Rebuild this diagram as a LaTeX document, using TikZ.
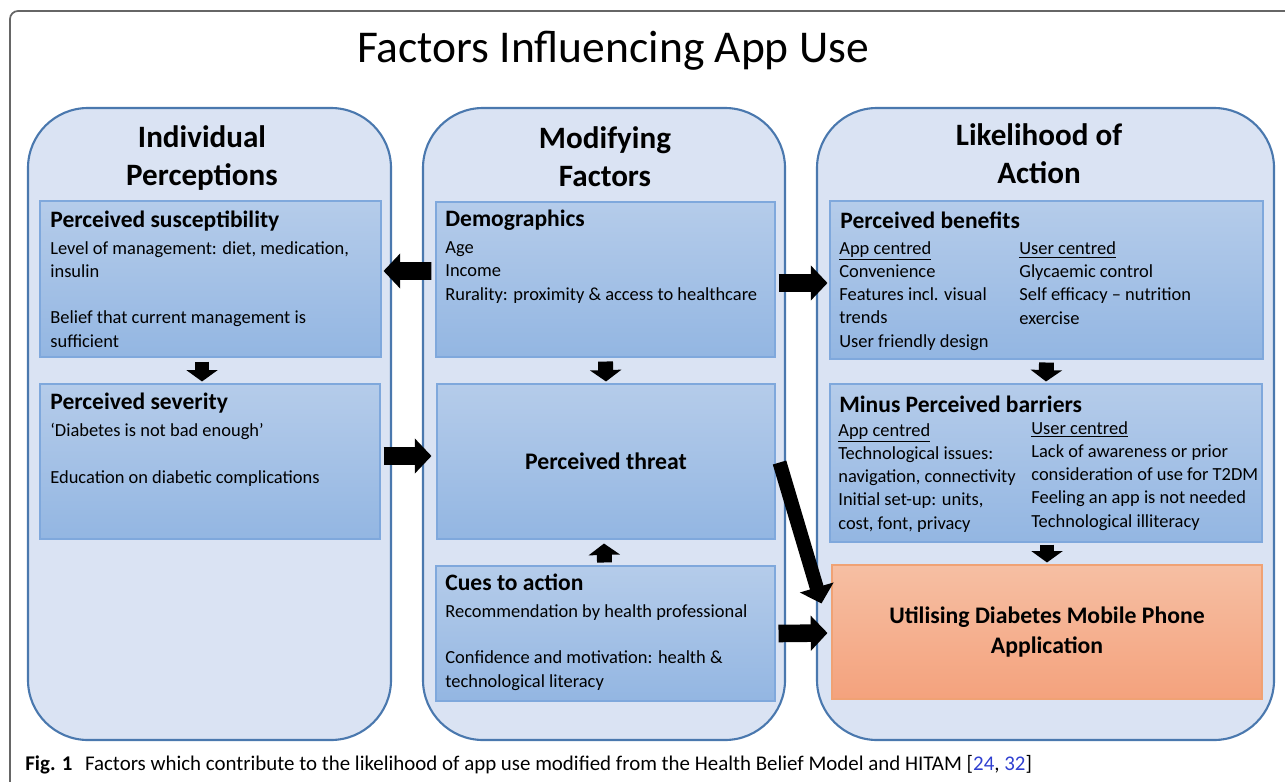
\documentclass[tikz,border=0pt]{standalone}
\usepackage{fontspec}
\setmainfont{Carlito}
\usepackage{tikz}
\usetikzlibrary{arrows.meta,positioning,fit}
\definecolor{colfill}{HTML}{DAE3F3}
\definecolor{colline}{HTML}{4A78AE}
\definecolor{boxtop}{HTML}{B5CCEA}
\definecolor{boxbot}{HTML}{93B6E2}
\definecolor{boxline}{HTML}{7FA8DC}
\definecolor{usetop}{HTML}{F6BFA3}
\definecolor{usebot}{HTML}{F4A27D}
\definecolor{useline}{HTML}{F0A274}
\definecolor{cite}{HTML}{2F3FD0}
\newcommand{\hd}{\fontsize{13.4}{14}\selectfont\bfseries}

\begin{document}
\begin{tikzpicture}[
  x=0.2mm,y=-0.2mm,
  frame/.style={draw=black!60,line width=1pt,rounded corners=1.6mm},
  column/.style={draw=colline,line width=1.2pt,fill=colfill,rounded corners=12mm},
  coltitle/.style={font=\fontsize{17.7}{21.6}\selectfont\bfseries,align=center,
    anchor=base,inner sep=0pt},
  factor/.style={draw=boxline,line width=0.6pt,top color=boxtop,bottom color=boxbot,
    inner sep=0pt},
  usage/.style={draw=useline,line width=0.6pt,top color=usetop,bottom color=usebot,
    inner sep=0pt},
  big/.style={font=\fontsize{13.5}{17}\selectfont\bfseries,align=center,inner sep=0pt},
  body/.style={anchor=base west,align=left,inner sep=0pt,
    font=\fontsize{10.5}{13.2}\selectfont},
  fat/.style={line width=10pt,-{Triangle[width=19.5pt,length=9.5pt]}},
  stub/.style={line width=8.5pt,-{Triangle[width=17.6pt,length=6.5pt]}}
]
  \useasboundingbox (0,0) rectangle (1285,782);
  \draw[frame] (1300,11) -- (10,11) -- (10,800);

  \node[font=\fontsize{25.9}{30}\selectfont,anchor=base] (title) at (613,63)
    {Factors Influencing App Use};

  \draw[column] (28,108) rectangle (391,740);
  \draw[column] (423,108) rectangle (785,740);
  \draw[column] (817,108) rectangle (1274,740);

  % multi-line texts sit on the baseline of their last line
  \node[coltitle] (indiv) at (202,185) {Individual\\Perceptions};
  \node[coltitle] (modif) at (605,186) {Modifying\\Factors};
  \node[coltitle] (likely) at (1039,183) {Likelihood of\\Action};

  \node[factor,fit={(40,201) (381,357)}] (susc) {};
  \node[factor,fit={(40,384) (380,539)}] (sev) {};
  \node[factor,fit={(436,202) (775,357)}] (demo) {};
  \node[factor,fit={(437,384) (775,539)}] (threat) {};
  \node[factor,fit={(436,566) (775,701)}] (cues) {};
  \node[factor,fit={(830,201) (1263,359)}] (benef) {};
  \node[factor,fit={(830,384) (1262,542)}] (barr) {};
  \node[usage,fit={(832,565) (1262,699)}] (util) {};

  \node[big] (threattxt) at (threat.center) {Perceived threat};
  \node[big] (utiltxt) at (util.center) {Utilising Diabetes Mobile Phone\\Application};

  \node[body] (susctxt) at (50,347) {{\hd Perceived susceptibility}\\[2.2pt]
    Level of management: diet, medication,\\ insulin\\[13.2pt]
    Belief that current management is\\ sufficient};
  \node[body] (sevtxt) at (50,483) {{\hd Perceived severity}\\[2.2pt]
    `Diabetes is not bad enough'\\[13.2pt]
    Education on diabetic complications};
  \node[body] (demotxt) at (445,300) {{\hd Demographics}\\[2.2pt]
    Age\\ Income\\ Rurality: proximity \& access to healthcare};
  \node[body] (cuestxt) at (445,687) {{\hd Cues to action}\\[2.2pt]
    Recommendation by health professional\\[13.2pt]
    Confidence and motivation: health \&\\ technological literacy};

  \node[body] (beneftxt) at (840,228) {\hd Perceived benefits};
  \node[body] (benefapp) at (839,347) {\underline{App centred}\\ Convenience\\
    Features incl. visual\\ trends\\ User friendly design};
  \node[body] (benefuser) at (1019,324) {\underline{User centred}\\ Glycaemic control\\
    Self efficacy -- nutrition\\ exercise};

  \node[body] (barrtxt) at (839,412) {\hd Minus Perceived barriers};
  \node[body] (barrapp) at (838,529) {\underline{App centred}\\ Technological issues:\\
    navigation, connectivity\\ Initial set-up: units,\\ cost, font, privacy};
  \node[body] (barruser) at (1031,527) {\underline{User centred}\\
    Lack of awareness or prior\\ consideration of use for T2DM\\
    Feeling an app is not needed\\ Technological illiteracy};

  \draw[fat] ([shift={(-4,-8.5)}]demo.west) -- ([shift={(2,-8)}]susc.east);
  \draw[fat] ([shift={(3,3.5)}]demo.east) -- ([shift={(-2,3)}]benef.west);
  \draw[fat] ([shift={(3,-5.5)}]sev.east) -- ([shift={(-5,-5.5)}]threat.west);
  \draw[fat] ([shift={(3,0)}]cues.east) -- ([shift={(-4,1)}]util.west);
  \draw[fat,line width=8pt] ([shift={(4,1)}]threat.east) -- ([shift={(-10,39)}]util.north west);
  \draw[stub] ([shift={(-8.5,4)}]susc.south) -- ([shift={(-8,-2)}]sev.north);
  \draw[stub] ([shift={(0,4)}]demo.south) -- ([shift={(0,-2)}]threat.north);
  \draw[stub] ([shift={(-1,-3)}]cues.north) -- ([shift={(-2,4)}]threat.south);
  \draw[stub] ([shift={(0,3)}]benef.south) -- ([shift={(0,-2)}]barr.north);
  \draw[stub] ([shift={(1,2)}]barr.south) -- ([shift={(0,-2)}]util.north);

  \node[anchor=base west,inner sep=0pt,font=\fontsize{11.9}{14}\selectfont] (caption)
    at (25,770) {\textbf{Fig. 1}\hspace{0.6em}Factors which contribute to the likelihood
    of app use modified from the Health Belief Model and HITAM
    [\textcolor{cite}{24}, \textcolor{cite}{32}]};
\end{tikzpicture}
\end{document}
